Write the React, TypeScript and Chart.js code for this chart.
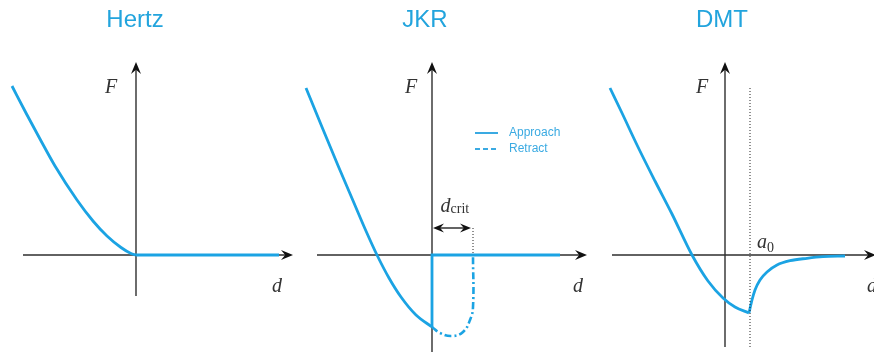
import { useEffect, useRef } from "react";
import { Chart, registerables } from "chart.js";

Chart.register(...registerables);

// Colours
const CURVE_BLUE = "#1ba3e3";
const TITLE_BLUE = "#22a4dd";
const LEGEND_BLUE = "#3aaae2";
const AXIS_COLOR = "#2e2e2e";

// Panel titles
const panelTitles = ["Hertz", "JKR", "DMT"];

// Hertz: force F vs separation d (arbitrary units, origin at contact)
const hertzCurve: [number, number][] = [
  [-12.4, 16.9], [-11.0, 14.2], [-9.6, 11.6], [-8.1, 8.9], [-5.9, 5.5],
  [-4.3, 3.4], [-2.9, 1.9], [-1.5, 0.75], [-0.5, 0.15], [0, 0],
];
const hertzFlat: [number, number][] = [[0, 0], [14.3, 0]];

// JKR: approach branch, jump-in and flat part, retract branch
const jkrApproachCurve: [number, number][] = [
  [-12.6, 16.7], [-11.0, 12.8], [-9.4, 8.95], [-7.8, 5.2], [-6.6, 2.4],
  [-5.5, 0], [-4.3, -2.3], [-3.1, -4.2], [-1.6, -6.0], [0, -7.2],
];
const jkrApproachJump: [number, number][] = [[0, -7.2], [0, 0], [12.8, 0]];
const jkrRetract: [number, number][] = [
  [0, -7.2], [0.8, -7.8], [2.0, -8.1], [3.1, -7.7], [3.8, -6.5],
  [4.1, -5.2], [4.1, 0],
];
const jkrCritical = 4.1;

// DMT: approach branch down to a0, attractive tail beyond
const dmtCurve: [number, number][] = [
  [-11.5, 16.7], [-10.3, 14.2], [-8.7, 10.8], [-7.0, 7.4], [-5.3, 4.1],
  [-3.3, 0], [-1.7, -2.6], [-0.2, -4.3], [1.0, -5.2], [2.4, -5.8],
];
const dmtTail: [number, number][] = [
  [2.4, -5.8], [2.7, -4.5], [3.0, -3.5], [3.5, -2.5], [4.2, -1.7],
  [5.2, -1.0], [6.5, -0.57], [8.2, -0.33], [9.8, -0.17], [12.0, -0.1],
];
const dmtA0 = 2.5;

// Legend entries
const legendLabels = ["Approach", "Retract"];

type Pt = [number, number];
const toXY = (arr: Pt[]) => arr.map(([x, y]) => ({ x, y }));

interface PanelDecor {
  title: string;
  titleX: number;
  xAxis: [number, number];
  yAxis: [number, number];
  fLabel: Pt;
  dLabel: Pt;
  extra?: (chart: Chart, px: (v: number) => number, py: (v: number) => number) => void;
}

function arrowHead(ctx: CanvasRenderingContext2D, x: number, y: number, dx: number, dy: number, len = 12, half = 5) {
  const nx = -dy, ny = dx;
  ctx.beginPath();
  ctx.moveTo(x, y);
  ctx.lineTo(x - dx * len + nx * half, y - dy * len + ny * half);
  ctx.lineTo(x - dx * len * 0.65, y - dy * len * 0.65);
  ctx.lineTo(x - dx * len - nx * half, y - dy * len - ny * half);
  ctx.closePath();
  ctx.fill();
}

const decorPlugin = {
  id: "panelDecor",
  beforeDatasetsDraw(chart: Chart, _args: unknown, opts: PanelDecor) {
    const ctx = chart.ctx;
    const px = (v: number) => chart.scales.x.getPixelForValue(v);
    const py = (v: number) => chart.scales.y.getPixelForValue(v);
    ctx.save();
    ctx.strokeStyle = AXIS_COLOR;
    ctx.fillStyle = "#111";
    ctx.lineWidth = 1.4;
    // horizontal axis
    ctx.beginPath();
    ctx.moveTo(px(opts.xAxis[0]), py(0));
    ctx.lineTo(px(opts.xAxis[1]) - 6, py(0));
    ctx.stroke();
    arrowHead(ctx, px(opts.xAxis[1]), py(0), 1, 0);
    // vertical axis
    ctx.beginPath();
    ctx.moveTo(px(0), py(opts.yAxis[0]));
    ctx.lineTo(px(0), py(opts.yAxis[1]) + 6);
    ctx.stroke();
    arrowHead(ctx, px(0), py(opts.yAxis[1]), 0, -1);
    ctx.restore();
  },
  afterDatasetsDraw(chart: Chart, _args: unknown, opts: PanelDecor) {
    const ctx = chart.ctx;
    const px = (v: number) => chart.scales.x.getPixelForValue(v);
    const py = (v: number) => chart.scales.y.getPixelForValue(v);
    ctx.save();
    // title
    ctx.fillStyle = TITLE_BLUE;
    ctx.font = "24px 'Liberation Sans', Arial, sans-serif";
    ctx.textAlign = "center";
    ctx.textBaseline = "alphabetic";
    ctx.fillText(opts.title, px(opts.titleX), 27);
    // axis letters
    ctx.fillStyle = "#333";
    ctx.font = "italic 20px 'Liberation Serif', 'Times New Roman', serif";
    ctx.textBaseline = "middle";
    ctx.fillText("F", px(opts.fLabel[0]), py(opts.fLabel[1]));
    ctx.fillText("d", px(opts.dLabel[0]), py(opts.dLabel[1]));
    ctx.restore();
    if (opts.extra) {
      ctx.save();
      opts.extra(chart, px, py);
      ctx.restore();
    }
  },
};

const jkrExtra = (chart: Chart, px: (v: number) => number, py: (v: number) => number) => {
  const ctx = chart.ctx;
  // dotted guide at the critical separation
  ctx.strokeStyle = "#222";
  ctx.lineWidth = 1;
  ctx.setLineDash([1, 2]);
  ctx.beginPath();
  ctx.moveTo(px(jkrCritical), py(2.7));
  ctx.lineTo(px(jkrCritical), py(0));
  ctx.stroke();
  ctx.setLineDash([]);
  // double arrow between 0 and d_crit
  const y = py(2.7);
  const x0 = px(0) + 1, x1 = px(jkrCritical) - 2;
  ctx.lineWidth = 1.4;
  ctx.beginPath();
  ctx.moveTo(x0 + 6, y);
  ctx.lineTo(x1 - 6, y);
  ctx.stroke();
  ctx.fillStyle = "#111";
  arrowHead(ctx, x0, y, -1, 0, 11, 4.5);
  arrowHead(ctx, x1, y, 1, 0, 11, 4.5);
  // d_crit label
  ctx.fillStyle = "#333";
  ctx.textBaseline = "alphabetic";
  ctx.textAlign = "left";
  ctx.font = "italic 20px 'Liberation Serif', 'Times New Roman', serif";
  const lx = px(0.85);
  const ly = py(4.3);
  ctx.fillText("d", lx, ly);
  const w = ctx.measureText("d").width;
  ctx.font = "14px 'Liberation Serif', 'Times New Roman', serif";
  ctx.fillText("crit", lx + w, ly + 1);
  // legend
  const entries = [
    { label: legendLabels[0], dash: [] as number[], y: 12.2 },
    { label: legendLabels[1], dash: [5, 3], y: 10.6 },
  ];
  ctx.font = "12px 'Liberation Sans', Arial, sans-serif";
  ctx.textBaseline = "middle";
  for (const e of entries) {
    ctx.strokeStyle = LEGEND_BLUE;
    ctx.lineWidth = 2;
    ctx.setLineDash(e.dash);
    ctx.beginPath();
    ctx.moveTo(px(4.3), py(e.y));
    ctx.lineTo(px(6.6), py(e.y));
    ctx.stroke();
    ctx.setLineDash([]);
    ctx.fillStyle = LEGEND_BLUE;
    ctx.fillText(e.label, px(7.7), py(e.y));
  }
};

const dmtExtra = (chart: Chart, px: (v: number) => number, py: (v: number) => number) => {
  const ctx = chart.ctx;
  ctx.strokeStyle = "#222";
  ctx.lineWidth = 1;
  ctx.setLineDash([1, 2]);
  ctx.beginPath();
  ctx.moveTo(px(dmtA0), py(16.7));
  ctx.lineTo(px(dmtA0), py(-9.3));
  ctx.stroke();
  ctx.setLineDash([]);
  ctx.fillStyle = "#333";
  ctx.textBaseline = "alphabetic";
  ctx.textAlign = "left";
  ctx.font = "italic 20px 'Liberation Serif', 'Times New Roman', serif";
  const lx = px(3.2);
  const ly = py(0.7);
  ctx.fillText("a", lx, ly);
  const w = ctx.measureText("a").width;
  ctx.font = "14px 'Liberation Serif', 'Times New Roman', serif";
  ctx.fillText("0", lx + w, ly + 4);
};

const curveSet = (data: Pt[], opts: Record<string, unknown> = {}) => ({
  data: toXY(data),
  borderColor: CURVE_BLUE,
  borderWidth: 2.8,
  pointRadius: 0,
  cubicInterpolationMode: "monotone",
  fill: false,
  ...opts,
});

const straightSet = (data: Pt[], opts: Record<string, unknown> = {}) => ({
  data: toXY(data),
  borderColor: CURVE_BLUE,
  borderWidth: 2.8,
  pointRadius: 0,
  tension: 0,
  fill: false,
  ...opts,
});

interface PanelSpec {
  left: number;
  width: number;
  xMin: number;
  xMax: number;
  datasets: Record<string, unknown>[];
  decor: PanelDecor;
}

const PANEL_H = 354;
const Y_MAX = 25.5;
const Y_MIN = -9.9;

const panels: PanelSpec[] = [
  {
    left: 0,
    width: 300,
    xMin: -13.6,
    xMax: 16.4,
    datasets: [curveSet(hertzCurve), straightSet(hertzFlat)],
    decor: {
      title: panelTitles[0],
      titleX: -0.1,
      xAxis: [-11.3, 15.7],
      yAxis: [-4.1, 19.3],
      fLabel: [-2.5, 16.7],
      dLabel: [14.1, -3.2],
    },
  },
  {
    left: 300,
    width: 290,
    xMin: -13.2,
    xMax: 15.8,
    datasets: [
      curveSet(jkrApproachCurve),
      straightSet(jkrApproachJump),
      straightSet(jkrRetract, {
        tension: 0.45,
        borderDash: [7, 3, 2, 3],
        borderWidth: 2.6,
      }),
    ],
    decor: {
      title: panelTitles[1],
      titleX: -0.7,
      xAxis: [-11.5, 15.5],
      yAxis: [-9.7, 19.3],
      fLabel: [-2.1, 16.7],
      dLabel: [14.6, -3.2],
      extra: jkrExtra,
    },
  },
  {
    left: 590,
    width: 284,
    xMin: -13.5,
    xMax: 14.9,
    datasets: [curveSet(dmtCurve), curveSet(dmtTail)],
    decor: {
      title: panelTitles[2],
      titleX: -0.3,
      xAxis: [-11.3, 15.1],
      yAxis: [-9.2, 19.3],
      fLabel: [-2.3, 16.7],
      dLabel: [14.7, -3.2],
      extra: dmtExtra,
    },
  },
];

function Panel({ spec }: { spec: PanelSpec }) {
  const ref = useRef<HTMLCanvasElement | null>(null);
  useEffect(() => {
    if (!ref.current) return;
    const chart = new Chart(ref.current, {
      type: "line",
      data: { datasets: spec.datasets as any },
      options: {
        animation: false,
        responsive: false,
        events: [],
        layout: { padding: 0 },
        scales: {
          x: { type: "linear", min: spec.xMin, max: spec.xMax, display: false },
          y: { type: "linear", min: Y_MIN, max: Y_MAX, display: false },
        },
        plugins: {
          legend: { display: false },
          tooltip: { enabled: false },
          panelDecor: spec.decor,
        } as any,
      },
      plugins: [decorPlugin as any],
    });
    return () => chart.destroy();
  }, [spec]);
  return (
    <canvas
      ref={ref}
      width={spec.width}
      height={PANEL_H}
      style={{ position: "absolute", left: spec.left, top: 0, width: spec.width, height: PANEL_H }}
    />
  );
}

export default function App() {
  return (
    <div
      style={{
        position: "fixed",
        left: 0,
        top: 0,
        width: 874,
        height: PANEL_H,
        background: "#ffffff",
        overflow: "hidden",
      }}
    >
      {panels.map((p, i) => (
        <Panel key={i} spec={p} />
      ))}
    </div>
  );
}
